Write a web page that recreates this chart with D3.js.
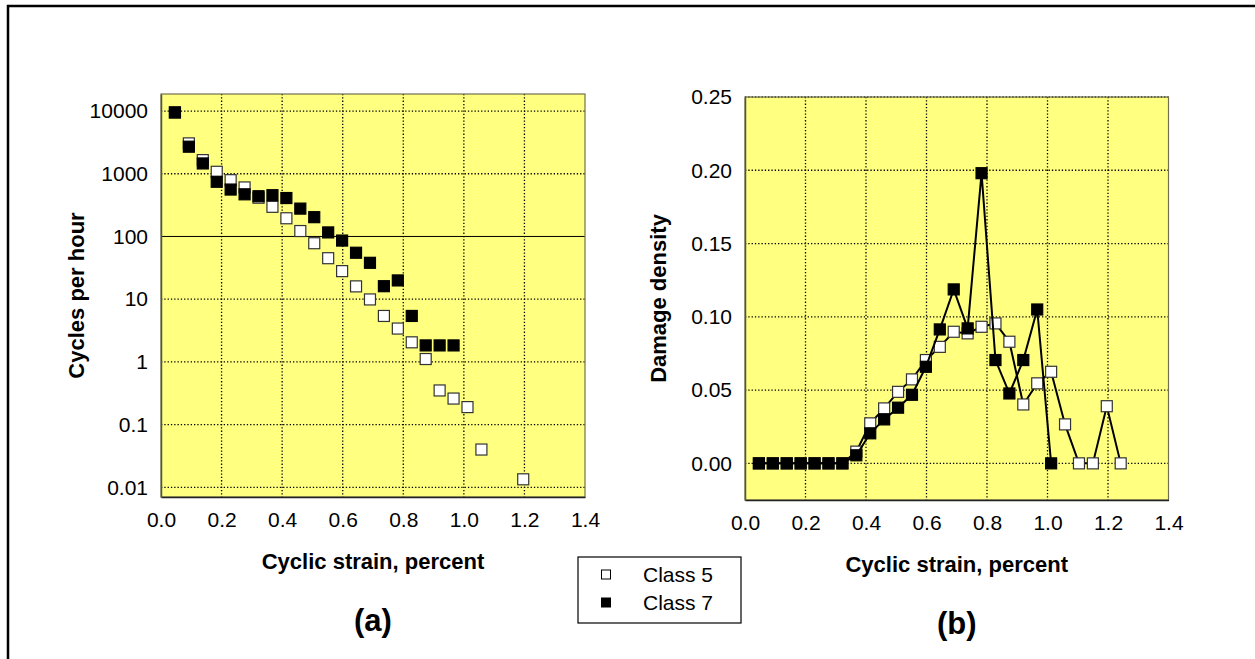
<!DOCTYPE html>
<html>
<head>
<meta charset="utf-8">
<script src="https://cdn.jsdelivr.net/npm/d3@7"></script>
<style>
  body { margin: 0; background: #fff; }
  svg { display: block; font-family: "Liberation Sans", Arial, sans-serif; }
  .tick text { font-size: 21px; fill: #000; }
  .axis-label { font-size: 22px; font-weight: bold; }
  .panel-label { font-size: 31px; font-weight: bold; }
  .legend-text { font-size: 21px; }
</style>
</head>
<body>
<svg width="1255" height="659"></svg>
<script>
// strain bins (percent)
const strain = [0.046, 0.092, 0.138, 0.184, 0.23, 0.276, 0.322, 0.368, 0.414, 0.46,
  0.506, 0.552, 0.598, 0.644, 0.69, 0.736, 0.782, 0.828, 0.874, 0.92,
  0.966, 1.012, 1.058, 1.104, 1.15, 1.196, 1.242];

// (a) cycles per hour
const cyclesClass5 = [9500, 3050, 1650, 1075, 790, 605, 415, 297, 195, 122,
  78, 45, 28, 16, 9.9, 5.4, 3.4, 2.05, 1.11, 0.35,
  0.26, 0.19, 0.04, null, null, 0.0134, null];
const cyclesClass7 = [9500, 2700, 1460, 745, 560, 470, 438, 455, 410, 278,
  203, 116, 86, 55, 38, 16.1, 19.9, 5.4, 1.83, 1.83, 1.83];

// (b) damage density
const damageClass5 = [0, 0, 0, 0, 0, 0, 0, 0.008, 0.0273, 0.0375,
  0.0488, 0.0573, 0.0705, 0.0795, 0.0898, 0.0887, 0.0932, 0.0955, 0.083, 0.0402,
  0.0546, 0.0625, 0.0266, 0, 0, 0.039, 0];
const damageClass7 = [0, 0, 0, 0, 0, 0, 0, 0.0055, 0.0205, 0.030,
  0.038, 0.0468, 0.0659, 0.0914, 0.1187, 0.0921, 0.198, 0.0705, 0.0477, 0.0705,
  0.105, 0];

const xTicks = [0, 0.2, 0.4, 0.6, 0.8, 1.0, 1.2, 1.4];
const cycleTicks = [0.01, 0.1, 1, 10, 100, 1000, 10000];
const cycleTickLabels = ['0.01', '0.1', '1', '10', '100', '1000', '10000'];
const damageTicks = [0, 0.05, 0.10, 0.15, 0.20, 0.25];
const legendLabels = ['Class 5', 'Class 7'];

const svg = d3.select('svg');

// outer frame
svg.append('rect')
    .attr('x', 8).attr('y', 6)
    .attr('width', 1400).attr('height', 800)
    .attr('fill', 'none')
    .attr('stroke', '#000')
    .attr('stroke-width', 2.5);

const toPairs = (ys) => ys.map((v, i) => ({ x: strain[i], y: v }));

function panel(opts) {
  const { left, top, right, bottom } = opts;
  const w = right - left, h = bottom - top;
  const g = svg.append('g').attr('transform', `translate(${left},${top})`);

  const x = d3.scaleLinear().domain([0, 1.4]).range([0, w]);
  const y = opts.yScale.range([h, 0]);

  g.append('rect')
      .attr('width', w).attr('height', h)
      .attr('fill', '#ffff80');

  // dotted grid
  g.selectAll('.vgrid').data(xTicks.slice(1, -1)).join('line')
      .attr('x1', d => x(d)).attr('x2', d => x(d))
      .attr('y1', 0).attr('y2', h)
      .attr('stroke', '#000').attr('stroke-width', 1.3)
      .attr('stroke-dasharray', '1.3,2');
  g.selectAll('.hgrid').data(opts.yTicks).join('line')
      .attr('x1', 0).attr('x2', w)
      .attr('y1', d => y(d)).attr('y2', d => y(d))
      .attr('stroke', '#000').attr('stroke-width', d => d === opts.solidAt ? 1 : 1.3)
      .attr('stroke-dasharray', d => d === opts.solidAt ? null : '1.3,2');

  // border
  g.append('rect')
      .attr('width', w).attr('height', h)
      .attr('fill', 'none')
      .attr('stroke', '#707050').attr('stroke-width', 1.2);

  const xAxis = d3.axisBottom(x).tickValues(xTicks)
      .tickFormat(d3.format('.1f')).tickSize(0).tickPadding(15);
  const xAxisG = g.append('g').attr('transform', `translate(0,${h})`).call(xAxis);
  xAxisG.select('.domain').attr('stroke', '#222').attr('stroke-width', 1.5);

  const yAxis = d3.axisLeft(y).tickValues(opts.yTicks)
      .tickFormat(opts.yFormat).tickSize(0).tickPadding(13);
  const yAxisG = g.append('g').call(yAxis);
  yAxisG.select('.domain').attr('stroke', '#555540').attr('stroke-width', 1.5);

  g.append('text')
      .attr('class', 'axis-label')
      .attr('x', w / 2).attr('y', h + 72)
      .attr('text-anchor', 'middle')
      .text('Cyclic strain, percent');

  g.append('text')
      .attr('class', 'axis-label')
      .attr('transform', `translate(${opts.yLabelX},${h / 2}) rotate(-90)`)
      .attr('text-anchor', 'middle')
      .text(opts.yLabel);

  g.append('text')
      .attr('class', 'panel-label')
      .attr('x', w / 2).attr('y', h + 134)
      .attr('text-anchor', 'middle')
      .text(opts.panelLabel);

  const s = 11;
  opts.series.forEach((ser) => {
    const pts = toPairs(ser.values).filter(d => d.y !== null && (!opts.log || d.y > 0));
    if (opts.lines) {
      g.append('path')
          .attr('fill', 'none')
          .attr('stroke', '#000')
          .attr('stroke-width', 2)
          .attr('d', d3.line().x(d => x(d.x)).y(d => y(d.y))(pts));
    }
    g.selectAll(null).data(pts).join('rect')
        .attr('x', d => x(d.x) - s / 2)
        .attr('y', d => y(d.y) - s / 2)
        .attr('width', s).attr('height', s)
        .attr('fill', ser.fill)
        .attr('stroke', ser.fill === '#fff' ? '#333' : '#000')
        .attr('stroke-width', 1.2);
  });
}

panel({
  left: 161, top: 94, right: 585, bottom: 497,
  yScale: d3.scaleLog().domain([0.007, 18700]),
  yTicks: cycleTicks,
  yFormat: (d) => cycleTickLabels[cycleTicks.indexOf(d)],
  solidAt: 100,
  yLabel: 'Cycles per hour', yLabelX: -77,
  panelLabel: '(a)',
  log: true, lines: false,
  series: [{ values: cyclesClass5, fill: '#fff' }, { values: cyclesClass7, fill: '#000' }]
});

panel({
  left: 745, top: 97, right: 1168.5, bottom: 500,
  yScale: d3.scaleLinear().domain([-0.025, 0.25]),
  yTicks: damageTicks,
  yFormat: d3.format('.2f'),
  solidAt: null,
  yLabel: 'Damage density', yLabelX: -79,
  panelLabel: '(b)',
  log: false, lines: true,
  series: [{ values: damageClass5, fill: '#fff' }, { values: damageClass7, fill: '#000' }]
});

// legend
const legend = svg.append('g').attr('transform', 'translate(578,557)');
legend.append('rect')
    .attr('width', 163).attr('height', 66)
    .attr('fill', '#fff').attr('stroke', '#000').attr('stroke-width', 1.2);
const legendFills = ['#fff', '#000'];
legendLabels.forEach((lab, i) => {
  legend.append('rect')
      .attr('x', 23.5).attr('y', 13 + i * 28)
      .attr('width', 9).attr('height', 9)
      .attr('fill', legendFills[i]).attr('stroke', '#000').attr('stroke-width', 1);
  legend.append('text')
      .attr('class', 'legend-text')
      .attr('x', 65).attr('y', 17.5 + i * 28)
      .attr('dy', '0.35em')
      .text(lab);
});
</script>
</body>
</html>
